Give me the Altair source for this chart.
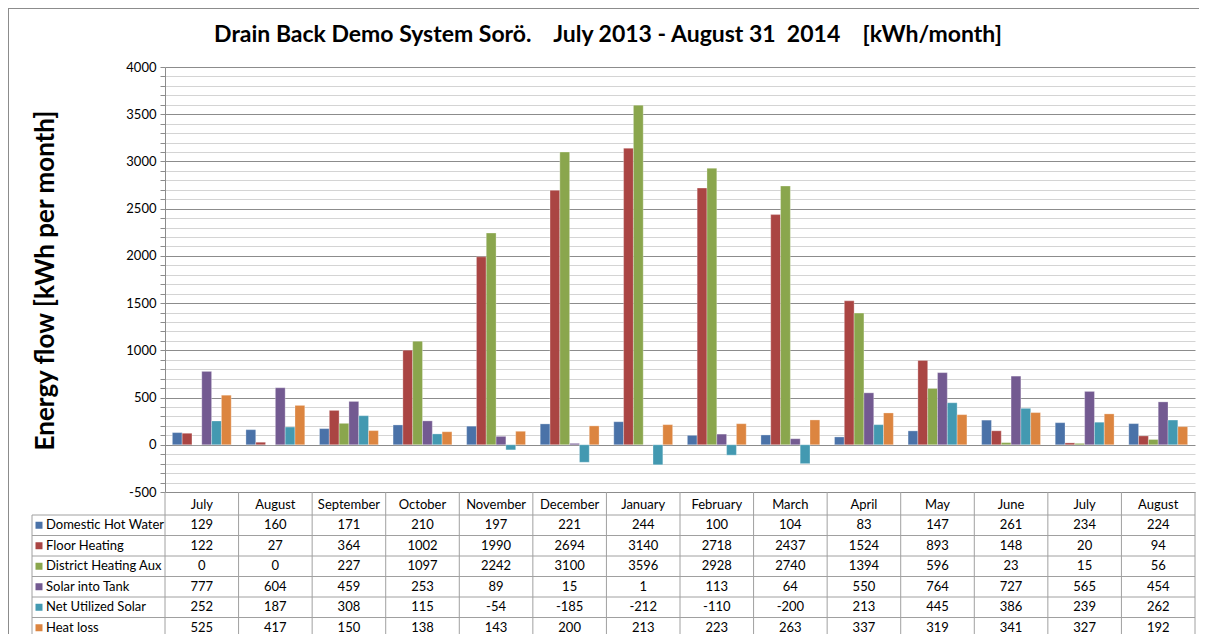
import altair as alt
import pandas as pd

months = ["July", "August", "September", "October", "November", "December", "January",
          "February", "March", "April", "May", "June", "July", "August"]
years = [2013, 2013, 2013, 2013, 2013, 2013, 2014, 2014, 2014, 2014, 2014, 2014, 2014, 2014]
series = ["Domestic Hot Water", "Floor Heating", "District Heating Aux",
          "Solar into Tank", "Net Utilized Solar", "Heat loss"]
domestic_hot_water = [129, 160, 171, 210, 197, 221, 244, 100, 104, 83, 147, 261, 234, 224]
floor_heating = [122, 27, 364, 1002, 1990, 2694, 3140, 2718, 2437, 1524, 893, 148, 20, 94]
district_heating_aux = [0, 0, 227, 1097, 2242, 3100, 3596, 2928, 2740, 1394, 596, 23, 15, 56]
solar_into_tank = [777, 604, 459, 253, 89, 15, 1, 113, 64, 550, 764, 727, 565, 454]
net_utilized_solar = [252, 187, 308, 115, -54, -185, -212, -110, -200, 213, 445, 386, 239, 262]
heat_loss = [525, 417, 150, 138, 143, 200, 213, 223, 263, 337, 319, 341, 327, 192]
colors = ["#4A72A8", "#AA4543", "#8AA64D", "#735A91", "#4399B1", "#DC8540"]
title_text = "Drain Back Demo System Sorö.    July 2013 - August 31  2014    [kWh/month]"

FONT = "Lato"
W, H = 1030, 425
HEADER_TOP, ROWS_TOP, ROWS_BOTTOM = 425, 448, 571
LEFT_COL = -133

keys = [f"{m} {y}" for m, y in zip(months, years)]
all_values = [domestic_hot_water, floor_heating, district_heating_aux,
              solar_into_tank, net_utilized_solar, heat_loss]
rows = []
for s, vals in zip(series, all_values):
    for k, m, v in zip(keys, months, vals):
        rows.append({"key": k, "month": m, "series": s, "value": v, "label": str(v)})
df = pd.DataFrame(rows)
months_df = pd.DataFrame({"key": keys, "month": months})
series_df = pd.DataFrame({"series": series})
one = pd.DataFrame({"a": [0]})

color_scale = alt.Scale(domain=series, range=colors)
x_table = alt.Scale(type="band", domain=keys, paddingInner=0, paddingOuter=0)
y_table = alt.Scale(type="band", domain=series, range=[ROWS_TOP, ROWS_BOTTOM],
                    paddingInner=0, paddingOuter=0)

frame_top = alt.Chart(one).mark_rule(color="#8c8c8c", strokeWidth=1).encode(
    x=alt.value(-157), x2=alt.value(1040), y=alt.value(-58.5))
frame_left = alt.Chart(one).mark_rule(color="#8c8c8c", strokeWidth=1).encode(
    x=alt.value(-156.5), y=alt.value(-59), y2=alt.value(575))

title = alt.Chart(pd.DataFrame({"t": [title_text.replace(" ", "\u00a0")]})).mark_text(
    font=FONT, fontSize=23, fontWeight="bold", color="black", align="center", baseline="middle"
).encode(text="t:N", x=alt.value(443), y=alt.value(-32))

bars = alt.Chart(df).mark_bar(stroke="white", strokeWidth=0.5, strokeOpacity=0.6).encode(
    x=alt.X("key:O", scale=alt.Scale(type="band", domain=keys, paddingInner=0.2, paddingOuter=0.1),
            axis=None),
    xOffset=alt.XOffset("series:N", scale=alt.Scale(domain=series, paddingInner=0, paddingOuter=0)),
    y=alt.Y("value:Q", scale=alt.Scale(domain=[-500, 4000], nice=False, zero=False),
            axis=alt.Axis(
                values=list(range(-500, 4001, 100)),
                labelExpr="datum.value % 500 === 0 ? '' + datum.value : ''",
                gridColor=alt.condition("datum.value % 500 === 0", alt.value("#8c8c8c"), alt.value("#d4d4d4")),
                gridWidth=1,
                domainColor="#8c8c8c",
                tickColor="#8c8c8c",
                tickSize=5,
                labelPadding=4,
                labelFont=FONT,
                labelFontSize=13,
                labelColor="black",
                title="Energy flow [kWh per month]",
                titleFont=FONT,
                titleFontSize=26,
                titleFontWeight="bold",
                titleColor="black",
                titleX=-120,
                titleY=213,
                titleAngle=270,
                titleAlign="center",
                titleBaseline="middle",
            )),
    color=alt.Color("series:N", scale=color_scale, legend=None),
)

header = alt.Chart(months_df).mark_text(font=FONT, fontSize=13, color="black").encode(
    x=alt.X("key:O", scale=x_table, axis=None),
    y=alt.value((HEADER_TOP + ROWS_TOP) / 2 + 1),
    text="month:N",
)

cells = alt.Chart(df).mark_text(font=FONT, fontSize=13, color="black").encode(
    x=alt.X("key:O", scale=x_table, axis=None),
    y=alt.Y("series:N", scale=y_table, axis=None),
    text="label:N",
)

vlines = alt.Chart(months_df).mark_rule(color="#a0a0a0", strokeWidth=1).encode(
    x=alt.X("key:O", scale=x_table, axis=None, bandPosition=0),
    y=alt.value(HEADER_TOP), y2=alt.value(ROWS_BOTTOM),
)
vline_end = alt.Chart(one).mark_rule(color="#a0a0a0", strokeWidth=1).encode(
    x=alt.value(W), y=alt.value(HEADER_TOP), y2=alt.value(ROWS_BOTTOM),
)
vline_left = alt.Chart(one).mark_rule(color="#a0a0a0", strokeWidth=1).encode(
    x=alt.value(LEFT_COL), y=alt.value(ROWS_TOP), y2=alt.value(ROWS_BOTTOM),
)
hlines = alt.Chart(series_df).mark_rule(color="#a0a0a0", strokeWidth=1).encode(
    y=alt.Y("series:N", scale=y_table, axis=None, bandPosition=0),
    x=alt.value(LEFT_COL), x2=alt.value(W),
)

squares = alt.Chart(series_df).mark_square(size=49, opacity=1).encode(
    x=alt.value(LEFT_COL + 7),
    y=alt.Y("series:N", scale=y_table, axis=None),
    color=alt.Color("series:N", scale=color_scale, legend=None),
)
labels = alt.Chart(series_df).mark_text(font=FONT, fontSize=13, color="black", align="left").encode(
    x=alt.value(LEFT_COL + 14),
    y=alt.Y("series:N", scale=y_table, axis=None),
    text="series:N",
)

chart = alt.layer(
    frame_top, frame_left, title, bars, vlines, vline_end, vline_left, hlines,
    header, cells, squares, labels
).resolve_scale(x="independent", y="independent").properties(
    width=W, height=H,
    autosize=alt.AutoSizeParams(type="none"),
    padding={"left": 157, "top": 59, "right": 4, "bottom": 142},
).configure_view(stroke="transparent")

chart.save("out.html", embed_options={"renderer": "svg", "actions": False})
